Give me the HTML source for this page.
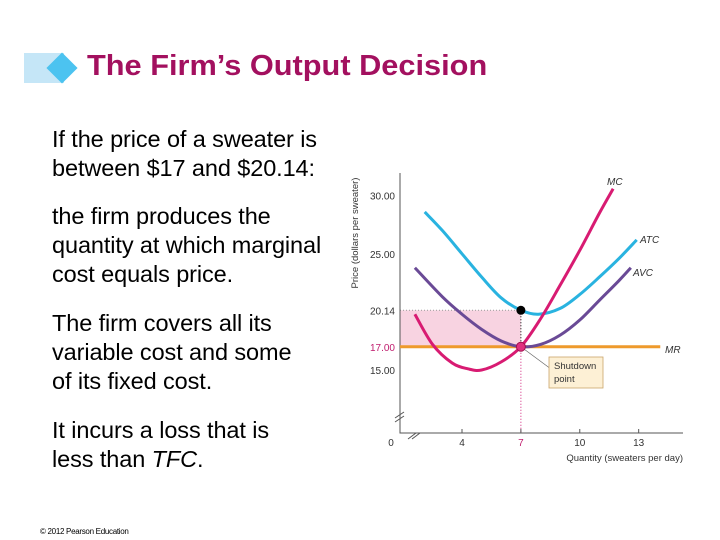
<!DOCTYPE html>
<html><head><meta charset="utf-8"><style>
body{margin:0;background:#fff;}
#wrap{position:relative;width:720px;height:540px;overflow:hidden;font-family:"Liberation Sans",Arial,sans-serif;}
.t{position:absolute;left:52px;font-size:23.5px;line-height:29px;color:#000;margin:0;letter-spacing:-0.1px;}
</style></head><body>
<div id="wrap">
<div style="position:absolute;left:24px;top:53px;width:40px;height:30px;background:#c5e6f7"></div>
<div style="position:absolute;left:51px;top:57px;width:22px;height:22px;background:#4cc3f0;transform:rotate(45deg)"></div>
<div style="position:absolute;left:87px;top:50px;font-size:29px;font-weight:bold;color:#a3105f;transform:scaleX(1.06);transform-origin:left">The Firm’s Output Decision</div>
<p class="t" style="top:125px">If the price of a sweater is<br>between $17 and $20.14:</p>
<p class="t" style="top:202px">the firm produces the<br>quantity at which marginal<br>cost equals price.</p>
<p class="t" style="top:309px">The firm covers all its<br>variable cost and some<br>of its fixed cost.</p>
<p class="t" style="top:416px">It incurs a loss that is<br>less than <i>TFC</i>.</p>
<div style="position:absolute;left:40px;top:527px;font-size:8px;letter-spacing:-0.3px">© 2012 Pearson Education</div>
<svg id="chart" width="720" height="540" style="position:absolute;left:0;top:0" font-family="Liberation Sans, Arial, sans-serif"></svg>
</div>
<script>
const mcQ=[1.6,2.5,3.5,4.3,5,6,7,8,9,10,11,11.7];
const mcP=[19.8,17.2,15.6,15.1,15,15.7,17,19.4,22.3,25.3,28.5,30.6];
const atcQ=[2.1,3,4,5,6,7,7.9,9,10,11,12,12.9];
const atcP=[28.6,27,25,23,21.2,20.14,19.8,20.3,21.5,23,24.6,26.2];
const avcQ=[1.6,3,4,5,6,7,8,9,10,11,12,12.6];
const avcP=[23.8,21.3,19.8,18.5,17.5,17,17.2,18,19.3,21,22.7,23.8];
const mrPrice=17, atcAtQ=20.14, qStar=7, mrEnd=14.1;
const yTicks=[30,25,20.14,17,15];
const yTickLabels=["30.00","25.00","20.14","17.00","15.00"];
const xTicks=[4,7,10,13];
const X=q=>462+(q-4)*19.63, Y=p=>370-(p-15)*11.62;
const svg=document.getElementById('chart'),NS='http://www.w3.org/2000/svg';
function mk(t,a,txt){const e=document.createElementNS(NS,t);for(const k in a)e.setAttribute(k,a[k]);if(txt!=null)e.textContent=txt;svg.appendChild(e);return e;}
function smooth(qs,ps){const pts=qs.map((q,i)=>[X(q),Y(ps[i])]);let d='M'+pts[0];for(let i=0;i<pts.length-1;i++){const p0=pts[i-1]||pts[i],p1=pts[i],p2=pts[i+1],p3=pts[i+2]||p2;d+=' C'+(p1[0]+(p2[0]-p0[0])/6)+','+(p1[1]+(p2[1]-p0[1])/6)+' '+(p2[0]-(p3[0]-p1[0])/6)+','+(p2[1]-(p3[1]-p1[1])/6)+' '+p2;}return d;}
let e;
e=mk('rect',{x:400,y:Y(atcAtQ),width:X(qStar)-400,height:Y(mrPrice)-Y(atcAtQ),fill:'#f8d3e1'});

e=mk('line',{x1:400,y1:Y(atcAtQ),x2:X(qStar),y2:Y(atcAtQ),stroke:'#999','stroke-dasharray':'1,2'});

e=mk('line',{x1:X(qStar),y1:Y(atcAtQ),x2:X(qStar),y2:Y(mrPrice),stroke:'#000','stroke-dasharray':'1,2'});

e=mk('line',{x1:X(qStar),y1:Y(mrPrice),x2:X(qStar),y2:433,stroke:'#d0207a','stroke-dasharray':'1,2'});

e=mk('path',{d:'M400,173 V433 H683',fill:'none',stroke:'#555','stroke-width':1});

e=mk('path',{d:'M395,418 l9,-6 M395,422 l9,-6 M408,439 l8,-6 M412,439 l8,-6',stroke:'#555',fill:'none'});

yTicks.forEach((v,i)=>{e=mk('text',{x:395,y:Y(v)+4,'text-anchor':'end','font-size':10,fill:v===mrPrice?'#c01d6e':'#333'},yTickLabels[i]);
});
e=mk('text',{x:391,y:446,'text-anchor':'middle','font-size':10,fill:'#333'},'0');

xTicks.forEach(v=>{e=mk('line',{x1:X(v),y1:433,x2:X(v),y2:429,stroke:'#555'});

e=mk('text',{x:X(v),y:446,'text-anchor':'middle','font-size':10,fill:v===qStar?'#c01d6e':'#333'},String(v));
});
e=mk('text',{x:683,y:461,'text-anchor':'end','font-size':9.5,fill:'#333'},'Quantity (sweaters per day)');

e=mk('text',{x:0,y:0,'font-size':9.5,fill:'#333','text-anchor':'middle',transform:'translate(358,233) rotate(-90)'},'Price (dollars per sweater)');

e=mk('line',{x1:400,y1:Y(mrPrice),x2:X(mrEnd),y2:Y(mrPrice),stroke:'#ee9a2c','stroke-width':3});

e=mk('path',{d:smooth(atcQ,atcP),fill:'none',stroke:'#29b3e0','stroke-width':3});

e=mk('path',{d:smooth(avcQ,avcP),fill:'none',stroke:'#6a4a96','stroke-width':3});

e=mk('path',{d:smooth(mcQ,mcP),fill:'none',stroke:'#d81b72','stroke-width':3});

[['MC',607,185],['ATC',640,243],['AVC',633,276],['MR',665,353]].forEach(l=>{e=mk('text',{x:l[1],y:l[2],'font-size':10,'font-style':'italic',fill:'#333'},l[0]);
});
e=mk('line',{x1:X(qStar),y1:Y(mrPrice),x2:555,y2:372,stroke:'#666','stroke-width':0.7});

e=mk('rect',{x:549,y:357,width:54,height:31,fill:'#fdf0d5',stroke:'#caa56a','stroke-width':0.8});

e=mk('text',{x:554,y:369,'font-size':9.5,fill:'#333'},'Shutdown');

e=mk('text',{x:554,y:382,'font-size':9.5,fill:'#333'},'point');

e=mk('circle',{cx:X(qStar),cy:Y(atcAtQ),r:4.5,fill:'#000'});

e=mk('circle',{cx:X(qStar),cy:Y(mrPrice),r:4.5,fill:'#e0307f',stroke:'#a0104f','stroke-width':1});

</script>
</body></html>
